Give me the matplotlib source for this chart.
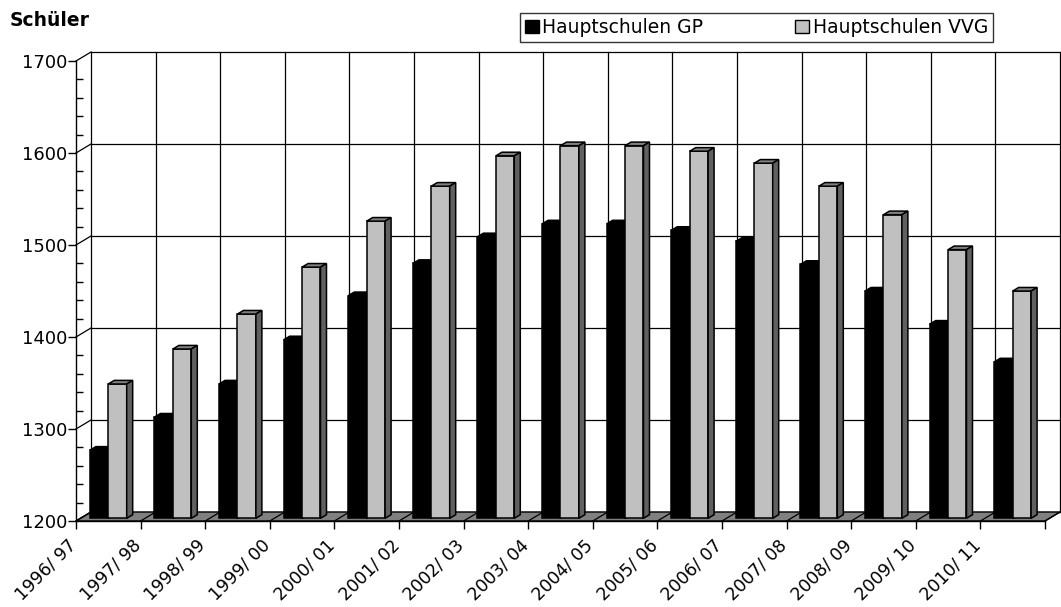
import matplotlib.pyplot as plt
from matplotlib.patches import Polygon, Patch
from matplotlib.ticker import MultipleLocator
from matplotlib.transforms import offset_copy

# Schuljahre und Schülerzahlen
jahre = ["1996/ 97", "1997/ 98", "1998/ 99", "1999/ 00", "2000/ 01",
         "2001/ 02", "2002/ 03", "2003/ 04", "2004/ 05", "2005/ 06",
         "2006/ 07", "2007/ 08", "2008/ 09", "2009/ 10", "2010/ 11"]
hs_gp = [1274, 1310, 1346, 1394, 1442, 1477, 1506, 1520, 1520, 1513,
         1501, 1476, 1447, 1411, 1370]
hs_vvg = [1346, 1384, 1422, 1473, 1523, 1561, 1594, 1605, 1605, 1599,
          1586, 1561, 1530, 1492, 1447]
serien = ["Hauptschulen GP", "Hauptschulen VVG"]

plt.rcParams['font.family'] = ['DejaVu Sans']

W, H = 1061, 607
PT = 0.72  # Punkte pro Pixel bei 100 dpi
fig = plt.figure(figsize=(W / 100, H / 100), dpi=100)
ax = fig.add_axes([76 / W, (H - 521) / H, 969 / W, 460 / H])

n = len(jahre)
ymin, ymax = 1200, 1700
ax.set_xlim(0, n)
ax.set_ylim(ymin, ymax)

# Pseudo-3D: Tiefe in Pixeln -> Datenkoordinaten
px_x = 969 / n              # Pixel pro Kategorie
px_y = 460 / (ymax - ymin)  # Pixel pro Schüler
dx = 15 / px_x
dy = 9 / px_y

# Rückwand mit Gitternetz
for v in range(ymin, ymax + 1, 100):
    ax.plot([dx, n + dx], [v + dy, v + dy], color='black', lw=0.9,
            clip_on=False, zorder=0.5)
    ax.plot([0, dx], [v, v + dy], color='black', lw=0.9, clip_on=False, zorder=0.5)
for k in range(n + 1):
    ax.plot([k + dx, k + dx], [ymin + dy, ymax + dy], color='black', lw=0.9,
            clip_on=False, zorder=0.5)

# Boden
boden = Polygon([(0, ymin), (n, ymin), (n + dx, ymin + dy), (dx, ymin + dy)],
                closed=True, facecolor='#808080', edgecolor='black', lw=1,
                clip_on=False, zorder=1)
ax.add_patch(boden)
for k in range(n + 1):
    ax.plot([k, k + dx], [ymin, ymin + dy], color='black', lw=0.9,
            clip_on=False, zorder=1.1)

# Säulen
breite = 0.285
vorne = 0.3   # Lage der Säulen in der Tiefe
tiefe = 0.4
bx, by = tiefe * dx, tiefe * dy
basis = ymin + vorne * dy


def saeule(x0, wert, farbe, oben, seite, z):
    top = wert + vorne * dy
    ax.bar(x0, top - basis, width=breite, bottom=basis, align='edge',
           color=farbe, edgecolor='black', lw=1.1, zorder=z, clip_on=False)
    x1 = x0 + breite
    ax.add_patch(Polygon([(x0, top), (x1, top), (x1 + bx, top + by), (x0 + bx, top + by)],
                         closed=True, facecolor=oben, edgecolor='black', lw=1.1,
                         zorder=z, clip_on=False))
    ax.add_patch(Polygon([(x1, basis), (x1, top), (x1 + bx, top + by), (x1 + bx, basis + by)],
                         closed=True, facecolor=seite, edgecolor='black', lw=1.1,
                         zorder=z, clip_on=False))


for i in range(n):
    x_gp = i + vorne * dx + 0.5 - breite - 0.07
    saeule(x_gp, hs_gp[i], 'black', 'black', 'black', 3 + i * 0.01)
    saeule(x_gp + breite, hs_vvg[i], '#c0c0c0', '#808080', '#606060', 3.005 + i * 0.01)

# Achsen
for s in ['top', 'right']:
    ax.spines[s].set_visible(False)
for s in ['left', 'bottom']:
    ax.spines[s].set_linewidth(1)
    ax.spines[s].set_zorder(2)

ax.yaxis.set_major_locator(MultipleLocator(100))
ax.yaxis.set_minor_locator(MultipleLocator(20))
ax.tick_params(axis='y', which='major', direction='out', length=8 * PT, width=1,
               labelsize=13, pad=1 * PT)
ax.tick_params(axis='y', which='minor', direction='in', length=7 * PT, width=1)

ax.set_xticks(range(n + 1))
ax.set_xticklabels(jahre + [''])
ax.tick_params(axis='x', which='major', direction='out', length=8 * PT, width=1,
               labelsize=12.5, pad=7 * PT)
for lab in ax.get_xticklabels():
    lab.set_rotation(45)
    lab.set_ha('right')
    lab.set_va('top')
    lab.set_transform(offset_copy(lab.get_transform(), fig=fig, x=4, y=0, units='dots'))

fig.text(10 / W, 1 - 20 / H, "Schüler", fontsize=13.5, fontweight='bold',
         ha='left', va='center')

griffe = [Patch(facecolor='black', edgecolor='black'),
          Patch(facecolor='#c0c0c0', edgecolor='black')]
leg = fig.legend(griffe, serien, loc='center',
                 bbox_to_anchor=(520 / W, 1 - 42 / H, 473 / W, 29 / H),
                 mode='expand', ncol=2, fontsize=13.5, frameon=True, fancybox=False,
                 edgecolor='black', handlelength=0.75, handleheight=0.75,
                 handletextpad=0.2, borderpad=0.25, borderaxespad=0,
                 columnspacing=0.4)
leg.get_frame().set_linewidth(1)

fig.savefig("out.png", dpi=100)
